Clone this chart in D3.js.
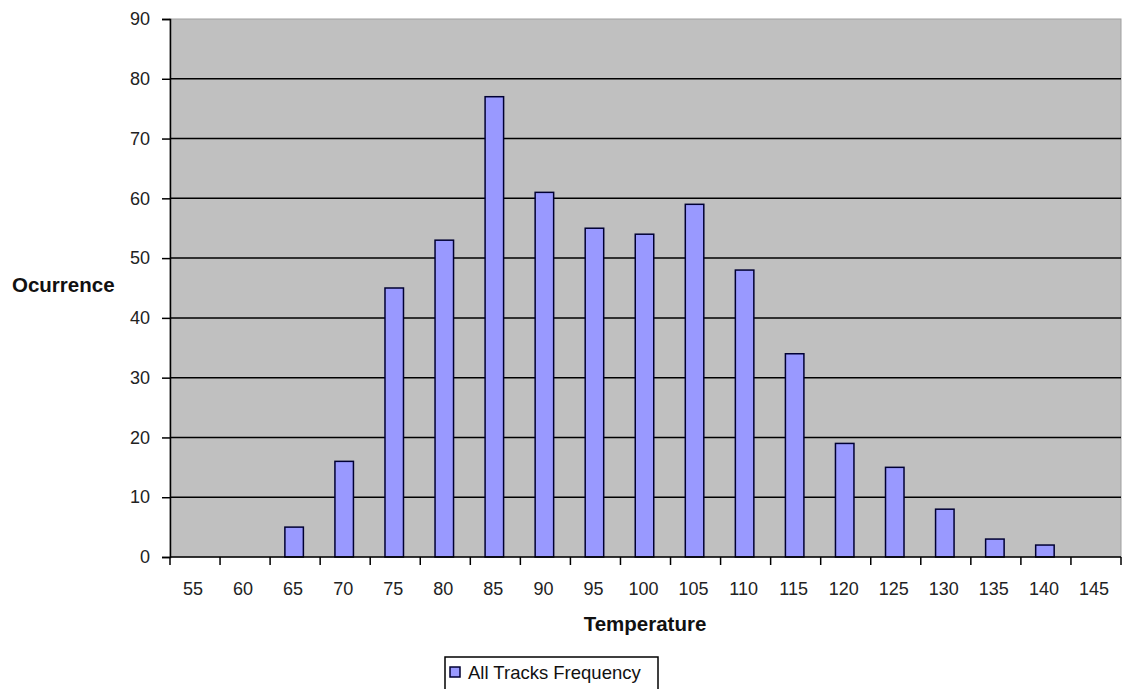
<!DOCTYPE html>
<html>
<head>
<meta charset="utf-8">
<script src="https://cdn.jsdelivr.net/npm/d3@7"></script>
<style>
  html, body { margin: 0; padding: 0; background: #fff; }
  svg { display: block; font-family: "Liberation Sans", Arial, sans-serif; }
</style>
</head>
<body>
<svg id="chart" width="1125" height="689"></svg>
<script>
// Temperature bins and occurrence counts
const temperatures = ["55","60","65","70","75","80","85","90","95","100","105","110","115","120","125","130","135","140","145"];
const occurrences  = [0, 0, 5, 16, 45, 53, 77, 61, 55, 54, 59, 48, 34, 19, 15, 8, 3, 2, 0];
const yTicks = [0, 10, 20, 30, 40, 50, 60, 70, 80, 90];
const seriesName = "All Tracks Frequency";

const svg = d3.select("#chart");
const plot = { left: 170, right: 1121, top: 19, bottom: 557 };

const x = d3.scaleBand().domain(temperatures).range([plot.left, plot.right]);
const y = d3.scaleLinear().domain([0, 90]).range([plot.bottom, plot.top]);

// plot background
svg.append("rect")
  .attr("x", plot.left).attr("y", plot.top)
  .attr("width", plot.right - plot.left).attr("height", plot.bottom - plot.top)
  .attr("fill", "#c0c0c0").attr("stroke", "#a0a0a0").attr("stroke-width", 1);

// horizontal gridlines
svg.append("g").selectAll("line")
  .data(yTicks.filter(d => d > 0 && d < 90))
  .join("line")
  .attr("x1", plot.left).attr("x2", plot.right)
  .attr("y1", d => y(d)).attr("y2", d => y(d))
  .attr("stroke", "#000").attr("stroke-width", 1.5);

// bars
const barW = 18.5;
svg.append("g").selectAll("rect")
  .data(temperatures.map((t, i) => ({ t, v: occurrences[i] })).filter(d => d.v > 0))
  .join("rect")
  .attr("x", d => x(d.t) + x.bandwidth() / 2 - barW / 2 - 1)
  .attr("y", d => y(d.v))
  .attr("width", barW)
  .attr("height", d => y(0) - y(d.v))
  .attr("fill", "#9999ff")
  .attr("stroke", "#000033")
  .attr("stroke-width", 1.5);

// y axis
const yAxis = svg.append("g")
  .attr("transform", `translate(${plot.left},0)`)
  .call(d3.axisLeft(y).tickValues(yTicks).tickSize(8).tickPadding(12));
yAxis.select(".domain").attr("stroke", "#000").attr("stroke-width", 1.5);
yAxis.selectAll(".tick line").attr("stroke", "#000").attr("stroke-width", 1.5);
yAxis.selectAll("text").attr("font-size", 18).attr("fill", "#222")
  .attr("font-family", "Liberation Sans, Arial, sans-serif");

// x axis: ticks sit on the band boundaries, labels at band centres
const xAxisG = svg.append("g");
xAxisG.append("line")
  .attr("x1", plot.left).attr("x2", plot.right)
  .attr("y1", plot.bottom).attr("y2", plot.bottom)
  .attr("stroke", "#000").attr("stroke-width", 1.5);
const boundaries = temperatures.map(t => x(t)).concat([x(temperatures[temperatures.length - 1]) + x.bandwidth()]);
xAxisG.selectAll("line.tick")
  .data(boundaries)
  .join("line")
  .attr("class", "tick")
  .attr("x1", d => d).attr("x2", d => d)
  .attr("y1", plot.bottom).attr("y2", plot.bottom + 8)
  .attr("stroke", "#000").attr("stroke-width", 1.5);
xAxisG.selectAll("text")
  .data(temperatures)
  .join("text")
  .attr("x", d => x(d) + x.bandwidth() / 2 - 2)
  .attr("y", plot.bottom + 38)
  .attr("text-anchor", "middle")
  .attr("font-size", 18)
  .attr("fill", "#222")
  .text(d => d);

// axis titles
svg.append("text")
  .attr("x", 12).attr("y", 292)
  .attr("font-size", 20.5).attr("font-weight", "bold").attr("fill", "#111")
  .text("Ocurrence");
svg.append("text")
  .attr("x", 645).attr("y", 631)
  .attr("text-anchor", "middle")
  .attr("font-size", 20.5).attr("font-weight", "bold").attr("fill", "#111")
  .text("Temperature");

// legend
const legend = svg.append("g");
legend.append("rect")
  .attr("x", 445).attr("y", 657).attr("width", 213).attr("height", 34)
  .attr("fill", "#fff").attr("stroke", "#000").attr("stroke-width", 1.5);
legend.append("rect")
  .attr("x", 450).attr("y", 667).attr("width", 10).attr("height", 10)
  .attr("fill", "#9999ff").attr("stroke", "#000033").attr("stroke-width", 1.5);
legend.append("text")
  .attr("x", 468).attr("y", 679)
  .attr("font-size", 18.5).attr("fill", "#111")
  .text(seriesName);
</script>
</body>
</html>
